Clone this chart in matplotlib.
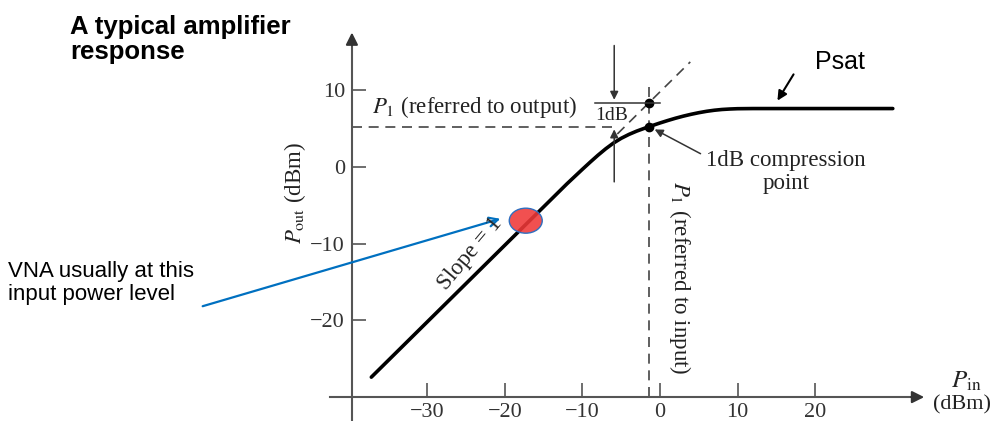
import matplotlib
matplotlib.use("Agg")
import matplotlib.pyplot as plt
from matplotlib.patches import Ellipse

plt.rcParams['font.family'] = ['Liberation Serif', 'DejaVu Serif']
plt.rcParams['mathtext.fontset'] = 'stix'

# amplifier response (dBm)
pin = [-37.2, -30, -20, -15, -12, -11, -10, -9, -8, -7, -6, -5, -4, -3, -2, -1,
       0, 1, 2, 3, 4, 5, 6, 7, 8, 9, 10, 12, 30]
pout = [-27.4, -20.2, -10.2, -5.2, -2.2, -1.25, -0.3, 0.63, 1.53, 2.37, 3.12, 3.74,
        4.25, 4.68, 5.05, 5.4, 5.74, 6.06, 6.36, 6.63, 6.87, 7.08, 7.26, 7.4, 7.5,
        7.56, 7.6, 7.62, 7.62]
gain = 9.8                      # small-signal gain of the slope=1 line
ext_in = [-5.5, 3.9]            # extrapolated linear line (dashed)
p1_in = -1.4                    # 1 dB compression point
p1_out = 5.27
p1_ext = 8.4                    # linear extrapolation at p1_in
vna_in, vna_out = -17.3, -7.0   # red marker
xticks = [-30, -20, -10, 0, 10, 20]
yticks = [-20, -10, 0, 10]

# pixel calibration of the original picture
X0, SX, Y0, SY = 660, 7.76, 167, 7.67
def d(px, py):
    return (px - X0) / SX, (Y0 - py) / SY

fig = plt.figure(figsize=(9.9, 4.21), dpi=100)
ax = fig.add_axes([0, 0, 1, 1])
ax.set_xlim((0 - X0) / SX, (990 - X0) / SX)
ax.set_ylim((Y0 - 421) / SY, (Y0 - 0) / SY)

xax_y = -30
yax_x = -39.7
axc = '#555555'
ax.spines['top'].set_visible(False)
ax.spines['right'].set_visible(False)
ax.spines['left'].set_position(('data', yax_x))
ax.spines['bottom'].set_position(('data', xax_y))
ax.spines['left'].set_bounds(-33.2, 16.5)
ax.spines['bottom'].set_bounds(-42.5, 33)
for s in ['left', 'bottom']:
    ax.spines[s].set_color(axc)
    ax.spines[s].set_linewidth(1.5)
ax.set_xticks(xticks)
ax.set_yticks(yticks)
ax.tick_params(direction='in', length=10, width=1.2, color=axc, labelsize=16,
               labelcolor='#333333', pad=5)
ax.tick_params(axis='x', pad=4)
ax.annotate('', xy=(yax_x, 17.9), xytext=(yax_x, 15.5),
            arrowprops=dict(arrowstyle='-|>', color='#333', lw=1.5, mutation_scale=18))
ax.annotate('', xy=(34.4, xax_y), xytext=(32, xax_y),
            arrowprops=dict(arrowstyle='-|>', color='#333', lw=1.5, mutation_scale=18))

# main curve
ax.plot(pin, pout, color='black', lw=2.6, solid_capstyle='round', solid_joinstyle='round')

# dashed guides
dash = dict(color='#444444', lw=1.2, dashes=(6, 4))
ax.plot(ext_in, [v + gain for v in ext_in], **dash)
ax.plot([yax_x, -5.9], [p1_out, p1_out], **dash)
ax.plot([p1_in, p1_in], [xax_y, 11], **dash)
ax.plot([p1_in, p1_in], [p1_out, p1_ext], 'o', color='black', ms=6)

# 1 dB marker
ax.plot([-8.4, 0], [p1_ext, p1_ext], color='#333', lw=1.1)
ax.annotate('', xy=(-5.9, p1_ext), xytext=(-5.9, 16.2),
            arrowprops=dict(arrowstyle='-|>', color='#333', lw=1.1, mutation_scale=12))
ax.annotate('', xy=(-5.9, p1_out), xytext=(-5.9, -2.3),
            arrowprops=dict(arrowstyle='-|>', color='#333', lw=1.1, mutation_scale=12))
ax.text(*d(612, 116), '1dB', fontsize=14, ha='center', va='center', color='#222')

# red marker and VNA arrow
ax.add_patch(Ellipse((vna_in, vna_out), 4.25, 3.26, facecolor=(0.94, 0.22, 0.22, 0.88),
                     edgecolor='#2f6fc0', lw=1.0, zorder=5))
ax.annotate('', xy=d(503, 218), xytext=d(200, 307),
            arrowprops=dict(arrowstyle='->', color='#0070C0', lw=1.6, mutation_scale=16))

# annotation arrows
ax.annotate('', xy=d(776, 103), xytext=d(795, 72),
            arrowprops=dict(arrowstyle='-|>', color='black', lw=1.5, mutation_scale=14))
ax.annotate('', xy=(p1_in + 0.4, p1_out - 0.2), xytext=d(703, 155),
            arrowprops=dict(arrowstyle='-|>', color='#333', lw=1.1, mutation_scale=12))

# texts
tc = '#222222'
ax.text(*d(372, 107), r'$P_1$ (referred to output)', fontsize=16.5, ha='left',
        va='center', color=tc)
ax.text(*d(786, 172), '1dB compression\npoint', fontsize=16.5, ha='center',
        va='center', color=tc, linespacing=1.1)
ax.text(*d(680, 278), r'$P_1$ (referred to input)', fontsize=16.5, ha='center',
        va='center', rotation=-90, color=tc)
ax.text(*d(470, 254), 'Slope = 1', fontsize=16.5, ha='center', va='center',
        rotation=50, color=tc)
ax.text(*d(295, 193), r'$P_\mathrm{out}$ (dBm)', fontsize=16.5, ha='center',
        va='center', rotation=90, color=tc)
ax.text(*d(966, 381), r'$P_\mathrm{in}$', fontsize=18, ha='center', va='center', color=tc)
ax.text(*d(962, 405), '(dBm)', fontsize=16, ha='center', va='center', color=tc)

fig.text(70 / 990, 1 - 15 / 421, 'A typical amplifier\nresponse', family='Liberation Sans',
         fontweight='bold', fontsize=18.5, ha='left', va='top', linespacing=1.05)
fig.text(815 / 990, 1 - 62 / 421, 'Psat', family='Liberation Sans', fontsize=18,
         ha='left', va='center')
fig.text(8 / 990, 1 - 261 / 421, 'VNA usually at this\ninput power level',
         family='Liberation Sans', fontsize=16, ha='left', va='top', linespacing=1.1)

fig.savefig('out.png', dpi=100)
